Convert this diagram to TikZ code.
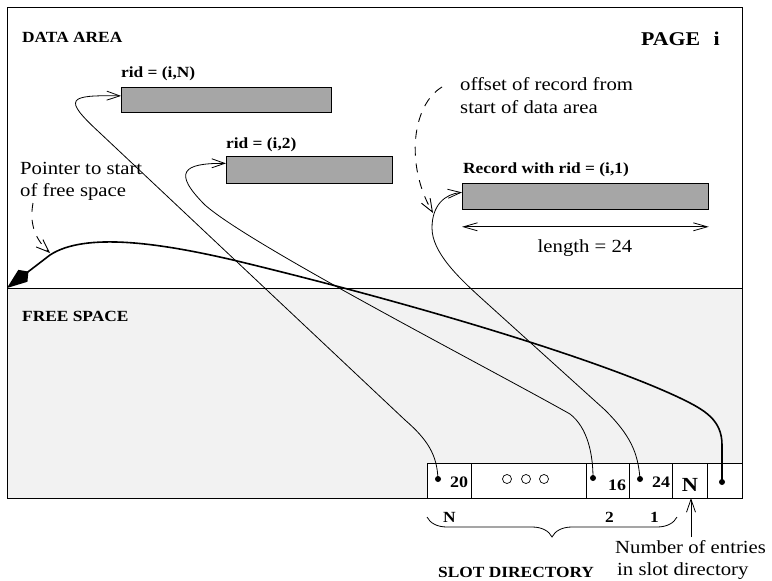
\documentclass[tikz,border=0pt]{standalone}
\usepackage{fontspec}
\setmainfont{Liberation Serif}[FakeStretch=1.12]
\usetikzlibrary{arrows.meta,decorations.pathreplacing}

\begin{document}
\begin{tikzpicture}[x=1pt,y=-1pt,inner sep=0pt,
  txt/.style={font=\fontsize{18.5}{22}\selectfont,anchor=base west},
  lbl/.style={font=\bfseries\fontsize{15.5}{18}\selectfont,anchor=base west},
  celltxt/.style={font=\bfseries\fontsize{16}{18}\selectfont,anchor=base west},
  rec/.style={draw,line width=0.8pt,fill=black!35,anchor=north west},
  link/.style={line width=0.8pt,-{Straight Barb[length=13pt,width=9pt]}},
  note/.style={line width=0.9pt,dash pattern=on 9pt off 8pt,-{Straight Barb[length=13pt,width=10pt]}}]
\useasboundingbox (0,0) rectangle (772,581);
% page i: data area on top, free space below
\node[draw,line width=1.2pt,anchor=north west,minimum width=735pt,minimum height=281pt] (data) at (7,7) {};
\node[draw,line width=1.2pt,fill=black!5,anchor=north west,minimum width=735pt,minimum height=210pt] (free) at (7,288) {};
\node[lbl] (dataname) at (22,42) {DATA AREA};
\node[lbl] (freename) at (22,321) {FREE SPACE};
\node[font=\bfseries\fontsize{19.5}{22}\selectfont,anchor=base east] (pagename) at (720,45) {PAGE\hspace{.7em}i};
% records
\node[rec,minimum width=210pt,minimum height=25pt] (recN) at (121,87) {};
\node[rec,minimum width=166pt,minimum height=27pt] (rec2) at (226,156) {};
\node[rec,minimum width=246pt,minimum height=26pt] (rec1) at (462,183) {};
\node[lbl] (ridN) at (121,77) {rid = (i,N)};
\node[lbl] (rid2) at (226,148) {rid = (i,2)};
\node[lbl] (rid1) at (463,173) {Record with rid = (i,1)};
\draw[line width=0.8pt,{Straight Barb[length=14pt,width=8pt]}-{Straight Barb[length=14pt,width=8pt]}] ([yshift=-17pt]rec1.south west) -- ([yshift=-17pt]rec1.south east);
\node[txt,anchor=base] (len) at (585,252) {length = 24};
% notes
\node[txt] (off1) at (460,90) {offset of record from};
\node[txt] (off2) at (460,113) {start of data area};
\node[txt] (ptr1) at (20,174) {Pointer to start};
\node[txt] (ptr2) at (20,196) {of free space};
\coordinate (offtail) at (442,87);
\coordinate (offhead) at (433,213);
\coordinate (ptrtail) at (33,203);
\coordinate (ptrhead) at (50,253);
\draw[note] (offtail) .. controls (412,105) and (405,165) .. (offhead);
\draw[note] (ptrtail) .. controls (29,225) and (36,240) .. (ptrhead);
% slot directory
\draw[line width=1pt,fill=white] (427,463) rectangle (742,498);
\foreach \x in {471,586,629,672,707} \draw[line width=0.8pt] (\x,463) -- (\x,498);
\foreach \n/\x/\y in {d20/438/479,d16/593/478,d24/640/479,dfree/722/482}{\fill (\x,\y) circle (3); \coordinate (\n) at (\x,\y);}
\foreach \x in {507,526,544} \draw[line width=0.7pt] (\x,479) circle (4.5);
\node[celltxt] (n20) at (450,487) {20};
\node[celltxt] (n16) at (608,490) {16};
\node[celltxt] (n24) at (652,487) {24};
\node[font=\bfseries\fontsize{20}{22}\selectfont,anchor=base] (ncnt) at (690,491) {N};
\node[lbl] (slotN) at (443,522) {N};
\node[lbl] (slot2) at (605,522) {2};
\node[lbl] (slot1) at (650,522) {1};
\draw[line width=0.8pt,decorate,decoration={brace,amplitude=20pt}] (677,517) -- (427,517);
\node[lbl] (slotname) at (438,577) {SLOT DIRECTORY};
\node[txt] (num1) at (615,553) {Number of entries};
\node[txt] (num2) at (617,575) {in slot directory};
\coordinate (nbot) at (691,498);
\coordinate (ntail) at (691,537);
\draw[link] (ntail) -- (nbot);
% slot pointers to records
\draw[link] (d20) .. controls (437,455) and (428,440) .. (405,420) -- (100,133) .. controls (62,98) and (68,95) .. ([yshift=4pt]recN.west);
\draw[link] (d16) .. controls (593,455) and (588,428) .. (570,414) .. controls (483,365) and (250,245) .. (205,205) .. controls (172,172) and (183,163) .. ([yshift=6.5pt]rec2.west);
\draw[link] (d24) .. controls (638,452) and (630,435) .. (605,410) -- (480,297) .. controls (458,277) and (432,252) .. (432,228) .. controls (432,205) and (445,194) .. ([yshift=4pt]rec1.west);
% pointer to start of free space
\draw[line width=1.6pt,-{Kite[length=27pt,width=15pt,inset=7pt]}] (dfree) -- (722,445) .. controls (722,420) and (705,410) .. (680,398) .. controls (600,360) and (420,305) .. (233,260) .. controls (160,243) and (85,232) .. (50,255) -- (free.north west);
\end{tikzpicture}
\end{document}
